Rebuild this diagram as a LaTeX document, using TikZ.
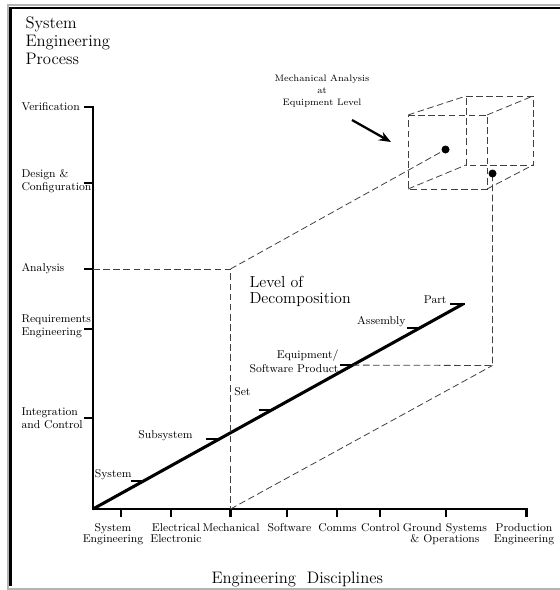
\documentclass[tikz,border=0pt]{standalone}
\usetikzlibrary{arrows.meta,calc}

\tikzset{every picture/.style={line width=0.75pt}}
\tikzset{
  axisln/.style={line width=1.6pt},
  depthln/.style={line width=2.3pt},
  guide/.style={color=black!75, line width=0.6pt, dash pattern=on 5pt off 2.6pt},
  lbl/.style={inner sep=0.75pt, font=\fontsize{8.5}{9.75}\selectfont, align=left},
  disc/.style={inner sep=0.75pt, font=\fontsize{8.5}{8}\selectfont, align=center, anchor=north},
  head/.style={inner sep=0.75pt, font=\fontsize{12.5}{13.5}\selectfont, align=left, anchor=north west},
}

\begin{document}
\begin{tikzpicture}[x=0.75pt,y=0.75pt,yscale=-1,xscale=1]
\useasboundingbox (0,0) rectangle (560,590);

%Frame
\draw [color={rgb, 255:red, 180; green, 180; blue, 180 }, line width=1.5pt] (560,4.8) -- (7.8,4.8) -- (7.8,590) ;
\draw [color={rgb, 255:red, 180; green, 180; blue, 180 }, line width=1.5pt] (7.8,588.8) -- (560,588.8) ;
\draw [line width=1.8pt] (560,8) -- (10.6,8) -- (10.6,586) ;

%Axes
\coordinate (O) at (93,509);
\foreach \y/\name in {107/verif,183/design,269/anal,329/req,418/integ}
  {\coordinate (\name) at (93,\y);}
\foreach \x/\name in {121/syseng,171.3/elec,230.5/mech,287/soft,337/comms,380.3/ctrl,446/ground,526.5/prod}
  {\coordinate (\name) at (\x,509);}
\draw [axisln] ($(verif)+(-9,0)$) -- (verif) -- (O) -- (prod) -- ++(0,8) ;
\foreach \name in {design,anal,req,integ}
  {\draw [axisln] (\name) -- ++(-9,0) ;}
\foreach \name in {syseng,elec,mech,soft,comms,ctrl,ground}
  {\draw [axisln] (\name) -- ++(0,8) ;}

%Level of decomposition line
\coordinate (part) at (463,304);
\draw [depthln] (O) -- (part) ;
\path (O) -- (part) coordinate[pos=0.137] (dsys) coordinate[pos=0.341] (dsub)
  coordinate[pos=0.483] (dset) coordinate[pos=0.702] (dequip) coordinate[pos=0.883] (dassy);
\foreach \p in {dsys,dsub,dset,dequip,dassy,part}
  {\draw [axisln] ($(\p)+(-13,0)$) -- ($(\p)+(1.5,0)$) ;}

%Box
\coordinate (ftl) at (408,115); \coordinate (ftr) at (487,115);
\coordinate (fbr) at (487,189); \coordinate (fbl) at (408,189);
\coordinate (btl) at (466,96); \coordinate (btr) at (533,96);
\coordinate (bbr) at (533,165); \coordinate (bbl) at (466,165);
\draw [guide] (ftl) -- (ftr) -- (fbr) -- (fbl) -- cycle ;
\draw [guide] (btl) -- (btr) -- (bbr) -- (bbl) -- cycle ;
\draw [guide] (ftl) -- (btl) (ftr) -- (btr) (fbr) -- (bbr) (fbl) -- (bbl) ;

%Dashed Lines
\coordinate (anaback) at (230.5,269);
\coordinate (eqback) at (492.5,365.5);
\coordinate (dota) at (445.5,149.5);
\coordinate (dotb) at (492.5,173.5);
\draw [guide] (anal) -- (anaback) -- (mech) ;
\draw [guide] (anaback) -- (dota) ;
\draw [guide] (dequip) -- (eqback) -- (dotb) ;
\draw [guide] (mech) -- (eqback) ;
\fill (dota) circle [radius=3pt] ;
\fill (dotb) circle [radius=3pt] ;

%Arrow
\coordinate (arrtail) at (352,120);
\coordinate (arrtip) at (391,142);
\draw [line width=1.7pt, -{Stealth[length=9pt,width=7pt]}] (arrtail) -- (arrtip) ;

% Text Node
\draw (322,91) node (mechcall) [inner sep=0.75pt, font=\fontsize{7}{9}\selectfont, align=center] {Mechanical Analysis\\at\\Equipment Level};
% Text Node
\draw (24,15) node (sysproc) [head] {System\\Engineering\\Process};
% Text Node
\draw (248,275) node (lvldec) [head, font=\fontsize{12}{12}\selectfont] {Level of\\Decomposition};
% Text Node
\draw (210,570) node (engdisc) [head] {Engineering\ \ Disciplines};

% Text Node
\draw (20,107) node (verlbl) [anchor=west][lbl] {Verification};
\draw (20,181.5) node (deslbl) [anchor=west][lbl] {Design \&\\Configuration};
\draw (20,269) node (analbl) [anchor=west][lbl] {Analysis};
\draw (20,326.5) node (reqlbl) [anchor=west][lbl] {Requirements\\Engineering};
\draw (20,418.5) node (intlbl) [anchor=west][lbl] {Integration\\and Control};

% Text Node
\draw (113,522.5) node (synlbl) [disc] {System\\Engineering};
\draw (176,522.5) node (eleclbl) [disc] {Electrical\\Electronic};
\draw (231,522.5) node (mechlbl) [disc] {Mechanical};
\draw (289.5,522.5) node (softlbl) [disc] {Software};
\draw (337.5,522.5) node (commlbl) [disc] {Comms};
\draw (380.5,522.5) node (ctrllbl) [disc] {Control};
\draw (445,522.5) node (gndlbl) [disc] {Ground Systems\\\& Operations};
\draw (524,522.5) node (prodlbl) [disc] {Production\\Engineering};

% Text Node
\draw (133,475) node (syslbl) [anchor=east][lbl] {System};
\draw (194,436) node (sublbl) [anchor=east][lbl] {Subsystem};
\draw (252,392) node (setlbl) [anchor=east][lbl] {Set};
\draw (340,361.5) node (eqlbl) [anchor=east][lbl, align=right, font=\fontsize{8.5}{11}\selectfont] {Equipment/\\Software Product};
\draw (407,322) node (asslbl) [anchor=east][lbl] {Assembly};
\draw (448,300) node (partlbl) [anchor=east][lbl] {Part};

\end{tikzpicture}
\end{document}
